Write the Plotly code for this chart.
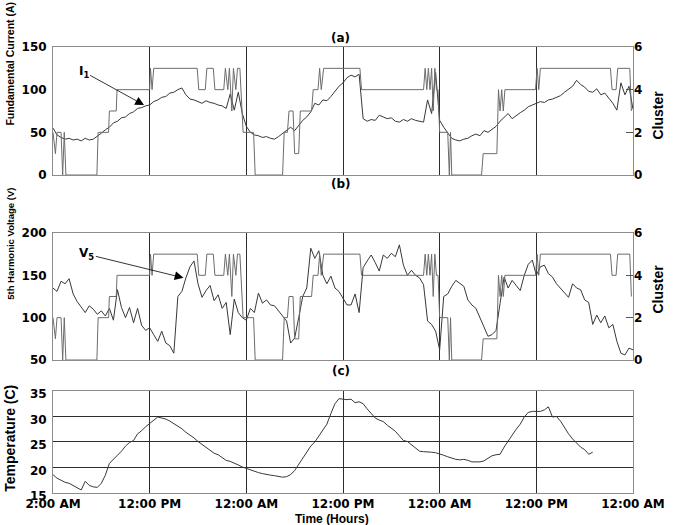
import plotly.graph_objects as go

# Samples every half hour, starting at the left edge of the time axis
STEP_H = 0.5

# (a) fundamental current, A
current_a = [
    55, 47, 44, 42, 43, 41, 42, 40, 43, 41, 42, 45, 49, 53, 56, 61, 63, 67, 68, 72, 74, 78, 79, 81,
    82, 86, 88, 91, 92, 96, 97, 100, 102, 94, 89, 88, 86, 84, 87, 85, 84, 82, 81, 78, 95, 76, 97, 72,
    57, 50, 47, 46, 44, 45, 43, 42, 45, 49, 52, 56, 52, 58, 64, 68, 74, 84, 82, 88, 87, 92, 98, 104,
    108, 114, 117, 115, 118, 66, 63, 65, 64, 70, 68, 66, 67, 63, 62, 65, 63, 66, 64, 63, 62, 88, 72, 120,
    64, 56, 49, 43, 41, 40, 42, 43, 46, 48, 46, 52, 50, 54, 57, 63, 68, 72, 66, 70, 73, 76, 80, 82,
    84, 86, 85, 88, 89, 91, 93, 97, 100, 104, 111, 106, 103, 98, 97, 101, 94, 96, 90, 84, 76, 108, 94, 104,
    77,
]

# (b) 5th harmonic voltage, V
v5 = [
    135, 131, 143, 140, 146, 128, 119, 113, 106, 114, 110, 104, 108, 102, 111, 97, 133, 112, 100, 112, 94, 111, 91, 85,
    88, 80, 72, 84, 70, 67, 58, 125, 131, 147, 160, 167, 140, 124, 132, 138, 120, 127, 111, 118, 80, 122, 106, 100,
    97, 111, 106, 129, 117, 121, 115, 114, 108, 103, 96, 70, 76, 100, 125, 135, 182, 170, 179, 150, 140, 149, 135, 131,
    123, 115, 115, 128, 106, 159, 167, 174, 165, 155, 174, 170, 176, 172, 186, 162, 150, 156, 150, 147, 139, 96, 92, 84,
    62, 125, 128, 137, 144, 140, 137, 121, 115, 111, 100, 88, 78, 80, 85, 117, 148, 135, 144, 138, 132, 150, 163, 168,
    150, 160, 162, 152, 148, 140, 135, 130, 124, 140, 135, 133, 121, 118, 92, 103, 94, 102, 88, 92, 72, 58, 56, 64,
    62,
]

# (c) ambient temperature, C
temp_c = [
    18.6, 17.9, 17.5, 17.1, 16.9, 16.5, 16.1, 15.6, 17.3, 16.5, 16.2, 16.1, 16.9, 18.5, 20.8, 21.7, 22.4, 23.2, 24.2, 24.9, 25.3, 26.6, 27.2, 28.0,
    28.6, 29.2, 29.9, 29.7, 29.5, 29.1, 28.6, 28.2, 27.6, 26.9, 26.4, 25.8, 25.1, 24.5, 23.9, 23.3, 22.8, 22.5, 21.9, 21.4, 21.2, 20.9, 20.5, 20.1,
    19.8, 19.5, 19.3, 19.0, 18.8, 18.6, 18.5, 18.4, 18.3, 18.1, 18.2, 18.6, 19.4, 20.6, 21.6, 23.0, 24.2, 25.0, 26.1, 27.2, 28.5, 30.6, 32.5, 33.5,
    33.4, 33.3, 33.4, 32.7, 32.9, 32.5, 31.5, 30.7, 29.7, 29.3, 29.0, 28.3, 27.7, 27.1, 26.2, 25.3, 25.1, 24.5, 23.9, 23.2, 23.1, 23.1, 23.0, 22.9,
    22.7, 22.4, 22.1, 21.8, 21.6, 21.5, 21.6, 21.4, 21.1, 21.1, 21.1, 21.3, 21.8, 22.3, 22.5, 22.6, 24.0, 25.2, 26.3, 27.5, 28.5, 29.9, 30.8, 31.0,
    31.0, 31.0, 31.3, 31.9, 29.9, 30.0, 29.1, 27.8, 26.6, 25.6, 24.7, 24.0, 23.5, 22.6, 23.0,
]

# Cluster assignment (hours, cluster id), shared by panels (a) and (b)
cluster_hours = [
    0.0, 0.3, 0.5, 1.0, 1.2, 1.4, 1.6, 5.45, 5.6, 6.9, 7.0, 7.85, 7.95,
    12.0, 12.1, 12.3, 12.5, 17.9, 18.1, 18.9, 19.1, 19.9, 20.1,
    21.2, 21.4, 21.7, 21.9, 22.2, 22.4, 22.7, 22.9, 23.2, 23.6, 24.9, 25.1,
    28.5, 28.7, 29.1, 29.3, 29.8, 30.0, 30.5, 30.7, 32.1, 32.3, 32.9, 33.1, 33.3, 33.6,
    38.1, 38.3, 46.0, 46.2, 46.4, 46.6, 46.8, 47.0, 47.2, 47.4, 47.6, 47.8, 48.0,
    49.0, 49.2, 49.35, 49.5, 53.2, 53.4, 55.1, 55.3, 55.5, 55.7, 55.9, 56.1,
    59.9, 60.1, 60.3, 60.5, 69.2, 69.4, 69.9, 70.1, 71.6, 71.8,
]
cluster_ids = [
    2, 1, 2, 2, 0, 2, 0, 0, 2, 2, 3, 3, 4,
    4, 5, 4, 5, 5, 4, 4, 5, 5, 4,
    4, 5, 4, 5, 3, 5, 4, 5, 5, 2, 2, 0,
    0, 2, 2, 3, 3, 1, 1, 3, 3, 4, 4, 5, 4, 5,
    5, 4, 4, 5, 4, 5, 4, 5, 3, 5, 4, 4, 2,
    2, 0, 2, 0, 0, 1, 1, 4, 3, 4, 3, 4,
    4, 5, 4, 5, 5, 4, 4, 5, 5, 3,
]

tick_hours = [0, 12, 24, 36, 48, 60, 72]
tick_labels = ["2:00 AM", "12:00 PM", "12:00 AM", "12:00 PM", "12:00 AM", "12:00 PM", "12:00 AM"]


def sample_hours(values):
    return [i * STEP_H for i in range(len(values))]


MAIN = "#383838"
CLUSTER = "#6c6c6c"
FRAME = "#8c8c8c"
GRID = "#2c2c2c"
TICK_FONT = dict(family="DejaVu Sans", size=12, color="black", weight="bold")
TITLE_FONT = "Liberation Sans"

fig = go.Figure()
fig.add_trace(go.Scatter(x=sample_hours(current_a), y=current_a, xaxis="x", yaxis="y",
                         mode="lines", line=dict(color=MAIN, width=1)))
fig.add_trace(go.Scatter(x=cluster_hours, y=cluster_ids, xaxis="x", yaxis="y2",
                         mode="lines", line=dict(color=CLUSTER, width=1)))
fig.add_trace(go.Scatter(x=sample_hours(v5), y=v5, xaxis="x2", yaxis="y3",
                         mode="lines", line=dict(color=MAIN, width=1)))
fig.add_trace(go.Scatter(x=cluster_hours, y=cluster_ids, xaxis="x2", yaxis="y4",
                         mode="lines", line=dict(color=CLUSTER, width=1)))
fig.add_trace(go.Scatter(x=sample_hours(temp_c), y=temp_c, xaxis="x3", yaxis="y5",
                         mode="lines", line=dict(color=MAIN, width=1)))


def time_axis(anchor, labels):
    return dict(anchor=anchor, domain=[0, 1], range=[0, 72], tickvals=tick_hours, ticktext=tick_labels,
                showticklabels=labels, ticks="", showgrid=True, gridcolor=GRID, gridwidth=1,
                showline=True, mirror=True, linecolor=FRAME, linewidth=1, zeroline=False,
                ticklabelstandoff=0,
                tickfont=dict(family="DejaVu Sans", size=12, color="black", weight="bold"))


def left_axis(anchor, domain, rng, vals, grid=False, shift=0):
    return dict(anchor=anchor, domain=domain, range=rng, tickvals=vals, ticks="",
                showgrid=grid, gridcolor=GRID, gridwidth=1, showline=True, mirror=True,
                linecolor=FRAME, linewidth=1, zeroline=False, tickfont=TICK_FONT,
                ticklabelstandoff=3, ticklabelshift=shift)


def cluster_axis(anchor, over):
    return dict(anchor=anchor, overlaying=over, side="right", range=[0, 6], tickvals=[0, 2, 4, 6],
                ticks="inside", ticklen=7, tickcolor="#555555", showgrid=False, showline=False,
                zeroline=False, tickfont=TICK_FONT)


dom_a = [0.7130, 1.0]
dom_b = [0.2982, 0.5830]
dom_c = [0.0, 0.2287]

fig.update_layout(
    width=677, height=525,
    margin=dict(l=53, r=35, t=47, b=32),
    paper_bgcolor="white", plot_bgcolor="white",
    showlegend=False,
    xaxis=time_axis("y", False),
    xaxis2=time_axis("y3", False),
    xaxis3=time_axis("y5", True),
    yaxis=left_axis("x", dom_a, [0, 150], [0, 50, 100, 150]),
    yaxis2=cluster_axis("x", "y"),
    yaxis3=left_axis("x2", dom_b, [50, 200], [50, 100, 150, 200]),
    yaxis4=cluster_axis("x2", "y3"),
    yaxis5=left_axis("x3", dom_c, [15, 35], [15, 20, 25, 30, 35], grid=True, shift=3),
)

notes = []


def side_title(text, x, y, size, angle=-90, family=TITLE_FONT):
    notes.append(dict(text=text, x=x, y=y, xref="paper", yref="paper", showarrow=False,
                      textangle=angle, xanchor="center", yanchor="middle",
                      font=dict(family=family, size=size, color="black", weight="bold")))


side_title("Fundamental Current (A)", -0.0747, 0.962, 10.5)
side_title("5th Harmonic Voltage (V)", -0.0747, 0.558, 9.5)
side_title("Temperature (C)", -0.0747, 0.123, 14)
side_title("Cluster", 1.0424, 0.8475, 14)
side_title("Cluster", 1.0424, 0.4574, 14)
side_title("Time (Hours)", 0.4805, -0.0590, 12, angle=0)
side_title("(a)", 0.4958, 1.0213, 12, angle=0, family="DejaVu Sans")
side_title("(b)", 0.4958, 0.6928, 12, angle=0, family="DejaVu Sans")
side_title("(c)", 0.4958, 0.2735, 12, angle=0, family="DejaVu Sans")

# Pointers to the two measured quantities
notes.append(dict(text="I<sub>1</sub>", x=11.3, y=82, xref="x", yref="y",
                  ax=3.8, ay=121, axref="x", ayref="y", showarrow=True,
                  arrowhead=2, arrowsize=2.2, arrowwidth=0.8, arrowcolor="black",
                  font=dict(family="DejaVu Sans", size=12, color="black", weight="bold")))
notes.append(dict(text="V<sub>5</sub>", x=16.2, y=147, xref="x2", yref="y3",
                  ax=4.2, ay=175, axref="x2", ayref="y3", showarrow=True,
                  arrowhead=2, arrowsize=2.2, arrowwidth=0.8, arrowcolor="black",
                  font=dict(family="DejaVu Sans", size=12, color="black", weight="bold")))

fig.update_layout(annotations=notes)
fig.write_html("out.html")
